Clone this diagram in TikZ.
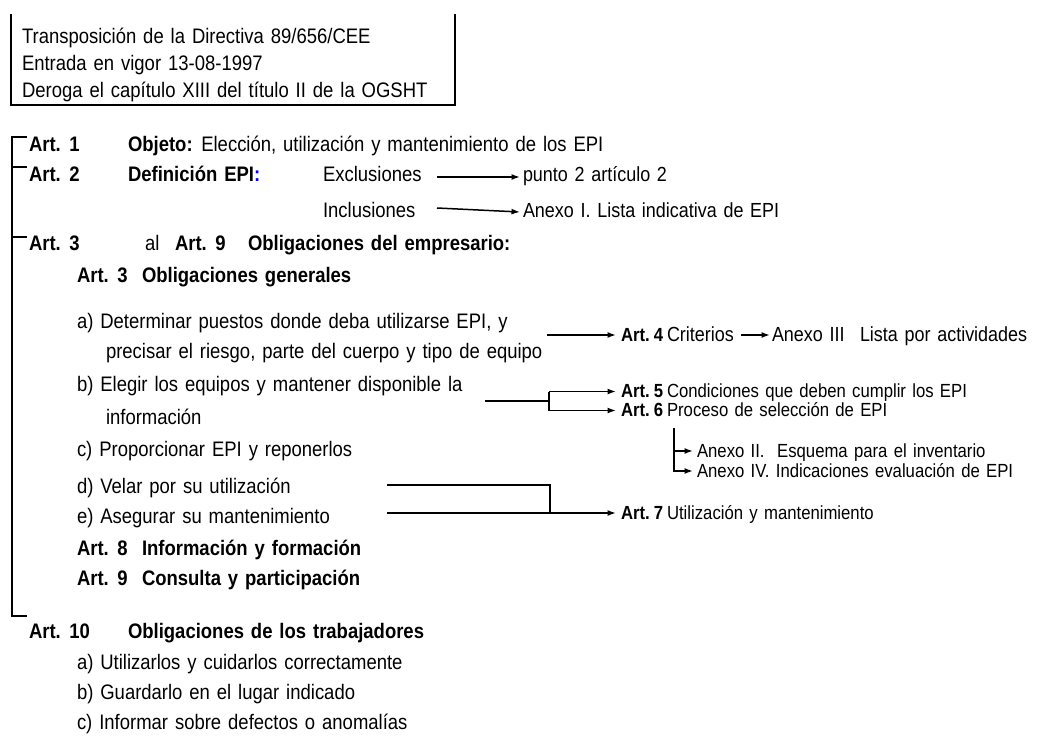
\documentclass[tikz,border=0pt]{standalone}
\usepackage{fontspec}
\setmainfont{Liberation Sans}[FakeStretch=0.88,WordSpace=1.35]
\usetikzlibrary{arrows.meta}
\begin{document}
\begin{tikzpicture}[x=1pt,y=-1pt,
  every node/.style={inner sep=0pt, outer sep=0pt, anchor=base west},
  lt/.style={font=\fontsize{21}{25}\selectfont},
  lb/.style={font=\fontsize{21}{25}\selectfont\bfseries},
  mt/.style={font=\fontsize{20.4}{24}\selectfont},
  rt/.style={font=\fontsize{19}{23}\selectfont},
  rb/.style={font=\fontsize{19}{23}\selectfont\bfseries},
  ln/.style={line width=1.6pt},
  ar/.style={line width=1.5pt, -{Latex[length=8.5pt,width=6pt]}},
]
\useasboundingbox (0,0) rectangle (1044,736);

% header box
\node[lt] (t1) at (22,43) {Transposición de la Directiva 89/656/CEE};
\node[lt] (t2) at (22,70) {Entrada en vigor 13-08-1997};
\node[lt] (t3) at (22,97) {Deroga el capítulo XIII del título II de la OGSHT};
\coordinate (bTL) at (11,14);
\coordinate (bBL) at (11,105);
\coordinate (bBR) at (455,105);
\coordinate (bTR) at (455,14);
\draw[ln] (bTL) -- (bBL) -- (bBR) -- (bTR);

% main column
\node[lb] (a1) at (29,151) {Art. 1};
\node[lt] (a1t) at (128,151) {\textbf{Objeto:} Elección, utilización y mantenimiento de los EPI};
\node[lb] (a2) at (29,181) {Art. 2};
\node[lt] (a2t) at (128,181) {\textbf{Definición EPI}\textcolor{blue}{\textbf{:}}};
\node[lt] (excl) at (323,181) {Exclusiones};
\node[mt] (punto) at (523,181) {punto 2 artículo 2};
\node[lt] (incl) at (323,217) {Inclusiones};
\node[mt] (anx1) at (523,217) {Anexo I. Lista indicativa de EPI};
\node[lb] (a3) at (29,250) {Art. 3};
\node[lt] (al) at (145,250) {al};
\node[lb] (a9h) at (175,250) {Art. 9};
\node[lb] (a3t) at (248,250) {Obligaciones del empresario:};
\node[lb] (s3) at (77,282) {Art. 3};
\node[lb] (s3t) at (142,282) {Obligaciones generales};
\node[lt] (ia) at (77,328) {a) Determinar puestos donde deba utilizarse EPI, y};
\node[lt] (ia2) at (106,358) {precisar el riesgo, parte del cuerpo y tipo de equipo};
\node[lt] (ib) at (77,391) {b) Elegir los equipos y mantener disponible la};
\node[lt] (ib2) at (106,424) {información};
\node[lt] (ic) at (77,456) {c) Proporcionar EPI y reponerlos};
\node[lt] (id) at (77,493) {d) Velar por su utilización};
\node[lt] (ie) at (77,523) {e) Asegurar su mantenimiento};
\node[lb] (s8) at (77,555) {Art. 8};
\node[lb] (s8t) at (142,555) {Información y formación};
\node[lb] (s9) at (77,585) {Art. 9};
\node[lb] (s9t) at (142,585) {Consulta y participación};
\node[lb] (a10) at (29,638) {Art. 10};
\node[lb] (a10t) at (128,638) {Obligaciones de los trabajadores};
\node[lt] (wa) at (77,669) {a) Utilizarlos y cuidarlos correctamente};
\node[lt] (wb) at (77,699) {b) Guardarlo en el lugar indicado};
\node[lt] (wc) at (77,729) {c) Informar sobre defectos o anomalías};

% right column
\node[rb] (r4) at (621,341) {Art.\kern4pt 4};
\node[mt] (r4t) at (667,341) {Criterios};
\node[mt] (r4a) at (772,341) {Anexo III};
\node[mt] (r4b) at (860,341) {Lista por actividades};
\node[rb] (r5) at (621,397) {Art.\kern4pt 5};
\node[rt] (r5t) at (667,397) {Condiciones que deben cumplir los EPI};
\node[rb] (r6) at (621,416) {Art.\kern4pt 6};
\node[rt] (r6t) at (667,416) {Proceso de selección de EPI};
\node[rt] (x2) at (697,457) {Anexo II.\ \ Esquema para el inventario};
\node[rt] (x4) at (697,477) {Anexo IV.\ Indicaciones evaluación de EPI};
\node[rb] (r7) at (621,519) {Art.\kern4pt 7};
\node[rt] (r7t) at (667,519) {Utilización y mantenimiento};

% main bracket
\coordinate (m1) at (12,137);
\coordinate (m1e) at (27,137);
\coordinate (m2) at (12,167);
\coordinate (m2e) at (27,167);
\coordinate (m3) at (12,237);
\coordinate (m3e) at (27,237);
\coordinate (m10) at (12,616);
\coordinate (m10e) at (27,616);
\draw[ln] (m1e) -- (m1) -- (m10) -- (m10e);
\draw[ln] (m2) -- (m2e);
\draw[ln] (m3) -- (m3e);

% Art. 2 arrows
\coordinate (exS) at (437,177);
\draw[ar] (exS) -- ([xshift=-3pt]punto.west |- exS);
\coordinate (inS) at (437,208);
\coordinate (inE) at (520,212);
\draw[ar] (inS) -- (inE);

% a) -> Art. 4
\coordinate (aS) at (547,335);
\draw[ar] (aS) -- ([xshift=-5pt]r4.west |- aS);
\coordinate (cS) at (741,335);
\draw[ar] (cS) -- ([xshift=-2pt]r4a.west |- cS);

% b) -> Art. 5 / Art. 6
\coordinate (bS) at (485,401);
\coordinate (bJ) at (549,401);
\coordinate (b5) at (549,391.5);
\coordinate (b6) at (549,410.5);
\draw[ln] (bS) -- (bJ);
\draw[ln] (b5) -- (b6);
\draw[ar] (b5) -- ([xshift=-5pt]r5.west |- b5);
\draw[ar] (b6) -- ([xshift=-5pt]r6.west |- b6);

% Art. 6 -> Anexos
\coordinate (s6) at (674,428);
\coordinate (s6a) at (674,451);
\coordinate (s6b) at (674,471);
\draw[ar] (s6) |- ([xshift=-4pt]x2.west |- s6a);
\draw[ar] (s6a) |- ([xshift=-4pt]x4.west |- s6b);

% d), e) -> Art. 7
\coordinate (dS) at (387,485);
\coordinate (dJ) at (550,485);
\coordinate (eJ) at (550,513);
\coordinate (eS) at (387,513);
\draw[ln] (dS) -- (dJ) -- (eJ);
\draw[ar] (eS) -- ([xshift=-5pt]r7.west |- eS);
\end{tikzpicture}
\end{document}
